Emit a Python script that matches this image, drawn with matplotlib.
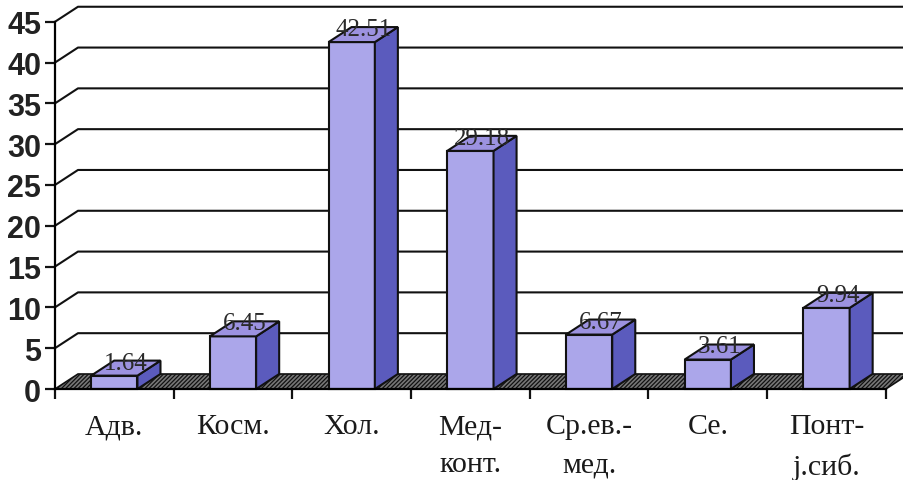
import matplotlib.pyplot as plt
from matplotlib.patches import Polygon

categories = ['Адв.', 'Косм.', 'Хол.', 'Мед-\nконт.', 'Ср.ев.-\nмед.', 'Се.', 'Понт-\nј.сиб.']
values = [1.64, 6.45, 42.51, 29.18, 6.67, 3.61, 9.94]
value_labels = ['1.64', '6.45', '42.51', '29.18', '6.67', '3.61', '9.94']
y_ticks = [0, 5, 10, 15, 20, 25, 30, 35, 40, 45]

# pseudo 3d depth in data units
dx, dy = 0.194, 1.84
bar_w = 0.39
front_c = '#aba6ea'
side_c = '#5b5bbd'
top_c = '#9c92e0'

plt.rcParams['hatch.linewidth'] = 0.9
plt.rcParams['hatch.color'] = '#111'

fig = plt.figure(figsize=(9.04, 4.81), dpi=100)
ax = fig.add_axes([0, 0, 1, 1])
ax.set_xlim(-0.463, 7.153)
ax.set_ylim(-11.15, 47.79)

# back wall gridlines + left wall diagonals
for v in y_ticks[1:]:
    ax.plot([0, dx, 7.3], [v, v + dy, v + dy], color='#111', lw=1.5, zorder=1,
            solid_joinstyle='round')

# floor
floor = Polygon([(0, 0), (7, 0), (7 + dx, dy), (dx, dy)], closed=True,
                facecolor='#777777', edgecolor='#111', hatch='////////', lw=1.2, zorder=2)
ax.add_patch(floor)

for i, v in enumerate(values):
    c = i + 0.5
    x0, x1 = c - bar_w / 2, c + bar_w / 2
    ax.bar(c, v, width=bar_w, color=front_c, edgecolor='#111', lw=1.5, zorder=3 + i)
    ax.add_patch(Polygon([(x1, 0), (x1 + dx, dy), (x1 + dx, v + dy), (x1, v)],
                         facecolor=side_c, edgecolor='#111', lw=1.5, zorder=3 + i))
    ax.add_patch(Polygon([(x0, v), (x1, v), (x1 + dx, v + dy), (x0 + dx, v + dy)],
                         facecolor=top_c, edgecolor='#111', lw=1.5, zorder=3 + i))
    ax.text(c + dx / 2, v + 1.6, value_labels[i], ha='center', va='center',
            fontsize=18, family='Liberation Serif', color='#2a2a2a', zorder=20)
    ax.text(c, -3.0, categories[i], ha='center', va='top', fontsize=21.5,
            family='Liberation Serif', color='#1a1a1a', linespacing=1.6)

# axes
for s in ['top', 'right']:
    ax.spines[s].set_visible(False)
ax.spines['left'].set_position(('data', 0))
ax.spines['left'].set_bounds(0, 45)
ax.spines['bottom'].set_position(('data', 0))
ax.spines['bottom'].set_bounds(0, 7)
ax.spines['left'].set_linewidth(1.6)
ax.spines['bottom'].set_linewidth(1.6)
ax.spines['left'].set_zorder(30)
ax.spines['bottom'].set_zorder(30)
ax.set_yticks(y_ticks)
ax.set_yticklabels([str(t) for t in y_ticks], fontsize=22, fontweight='bold',
                   family='Liberation Sans', color='#222')
ax.set_xticks(range(8))
ax.set_xticklabels([])
ax.tick_params(axis='both', length=7, width=1.6, direction='out', color='#111')
ax.tick_params(axis='y', pad=3)

fig.savefig('out.png', dpi=100)
